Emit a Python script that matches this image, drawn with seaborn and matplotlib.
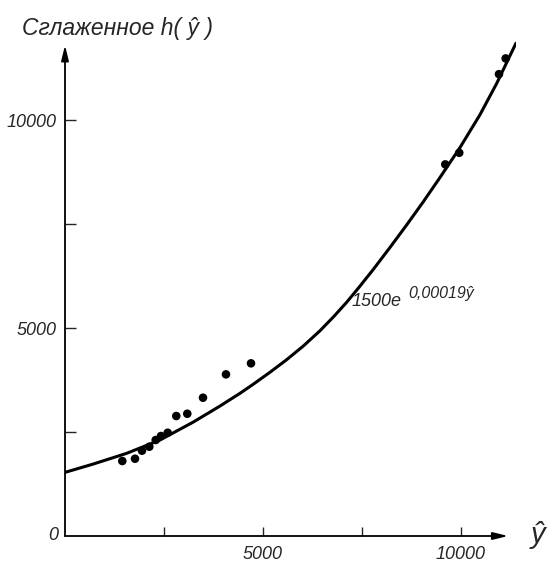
import matplotlib
matplotlib.use("Agg")
import matplotlib.pyplot as plt
import seaborn as sns
import pandas as pd

# Observed points (ŷ, smoothed h(ŷ))
point_x = [1447, 1768, 1944, 2129, 2290, 2424, 2593, 2810, 3088, 3485,
           4065, 4697, 9603, 9956, 10959, 11128]
point_y = [1803, 1858, 2051, 2147, 2308, 2404, 2483, 2885, 2940, 3325,
           3887, 4152, 8936, 9215, 11106, 11484]

# Fitted curve 1500e^{0,00019ŷ} as drawn in the figure
curve_x = [0, 715, 1558, 2399, 3240, 3914, 4419, 4755, 5180, 5598, 6020,
           6439, 6780, 7113, 7450, 7785, 8200, 8628, 9050, 9469, 9974,
           10479, 10900, 11388]
curve_y = [1530, 1731, 1988, 2308, 2740, 3125, 3431, 3650, 3940, 4240, 4570,
           4935, 5270, 5620, 6010, 6410, 6930, 7480, 8040, 8620, 9340,
           10130, 10880, 11850]

xticks = [2500, 5000, 7500, 10000]
xticklabels = ["", "5000", "", "10000"]
yticks = [2500, 5000, 7500, 10000]
yticklabels = ["", "5000", "", "10000"]

title_text = "Сглаженное h( ŷ )"
xlabel_text = "ŷ"
formula_main = "1500e"
formula_exp = "0,00019ŷ"

sns.set_style("white")
plt.rcParams["font.family"] = ["Liberation Sans", "DejaVu Sans"]
plt.rcParams["font.style"] = "italic"

fig = plt.figure(figsize=(5.51, 5.63), dpi=100)
ax = fig.add_axes([65 / 551, 27 / 563, 0.8193, 0.879])

pts = pd.DataFrame({"x": point_x, "y": point_y})
crv = pd.DataFrame({"x": curve_x, "y": curve_y})

sns.lineplot(data=crv, x="x", y="y", ax=ax, color="black", linewidth=2.2,
             estimator=None, sort=False, solid_joinstyle="round",
             solid_capstyle="round")
sns.scatterplot(data=pts, x="x", y="y", ax=ax, color="black", s=38,
                edgecolor="none", zorder=5)

ax.set_xlim(0, 11400)
ax.set_ylim(0, 11900)
for s in ax.spines.values():
    s.set_visible(False)

# axis arrows
ax.annotate("", xy=(11190, 0), xytext=(0, 0),
            arrowprops=dict(arrowstyle="-|>,head_length=0.9,head_width=0.22",
                            color="black", lw=1.3, shrinkA=0, shrinkB=0),
            annotation_clip=False)
ax.annotate("", xy=(0, 11800), xytext=(0, 0),
            arrowprops=dict(arrowstyle="-|>,head_length=0.9,head_width=0.22",
                            color="black", lw=1.3, shrinkA=0, shrinkB=0),
            annotation_clip=False)

ax.set_xticks(xticks)
ax.set_xticklabels(xticklabels)
ax.set_yticks(yticks)
ax.set_yticklabels(yticklabels)
ax.tick_params(axis="x", direction="in", length=6.5, width=1.0, pad=7,
               labelsize=13, bottom=True)
ax.tick_params(axis="y", direction="in", length=8, width=1.0, pad=6,
               labelsize=13, left=True)
for lab in ax.get_xticklabels() + ax.get_yticklabels():
    lab.set_fontstyle("italic")
ax.set_xlabel("")
ax.set_ylabel("")

ax.text(-180, 0, "0", ha="right", va="center", fontsize=13, style="italic")
ax.text(11950, 30, xlabel_text, ha="center", va="center", fontsize=21,
        style="italic", clip_on=False)

ax.text(7230, 5640, formula_main, ha="left", va="center", fontsize=13,
        style="italic")
ax.text(8660, 5820, formula_exp, ha="left", va="center", fontsize=11.5,
        style="italic")

fig.text(22 / 551, 1 - 28 / 563, title_text, ha="left", va="center",
         fontsize=16.5, style="italic")

fig.savefig("out.png", dpi=100)
